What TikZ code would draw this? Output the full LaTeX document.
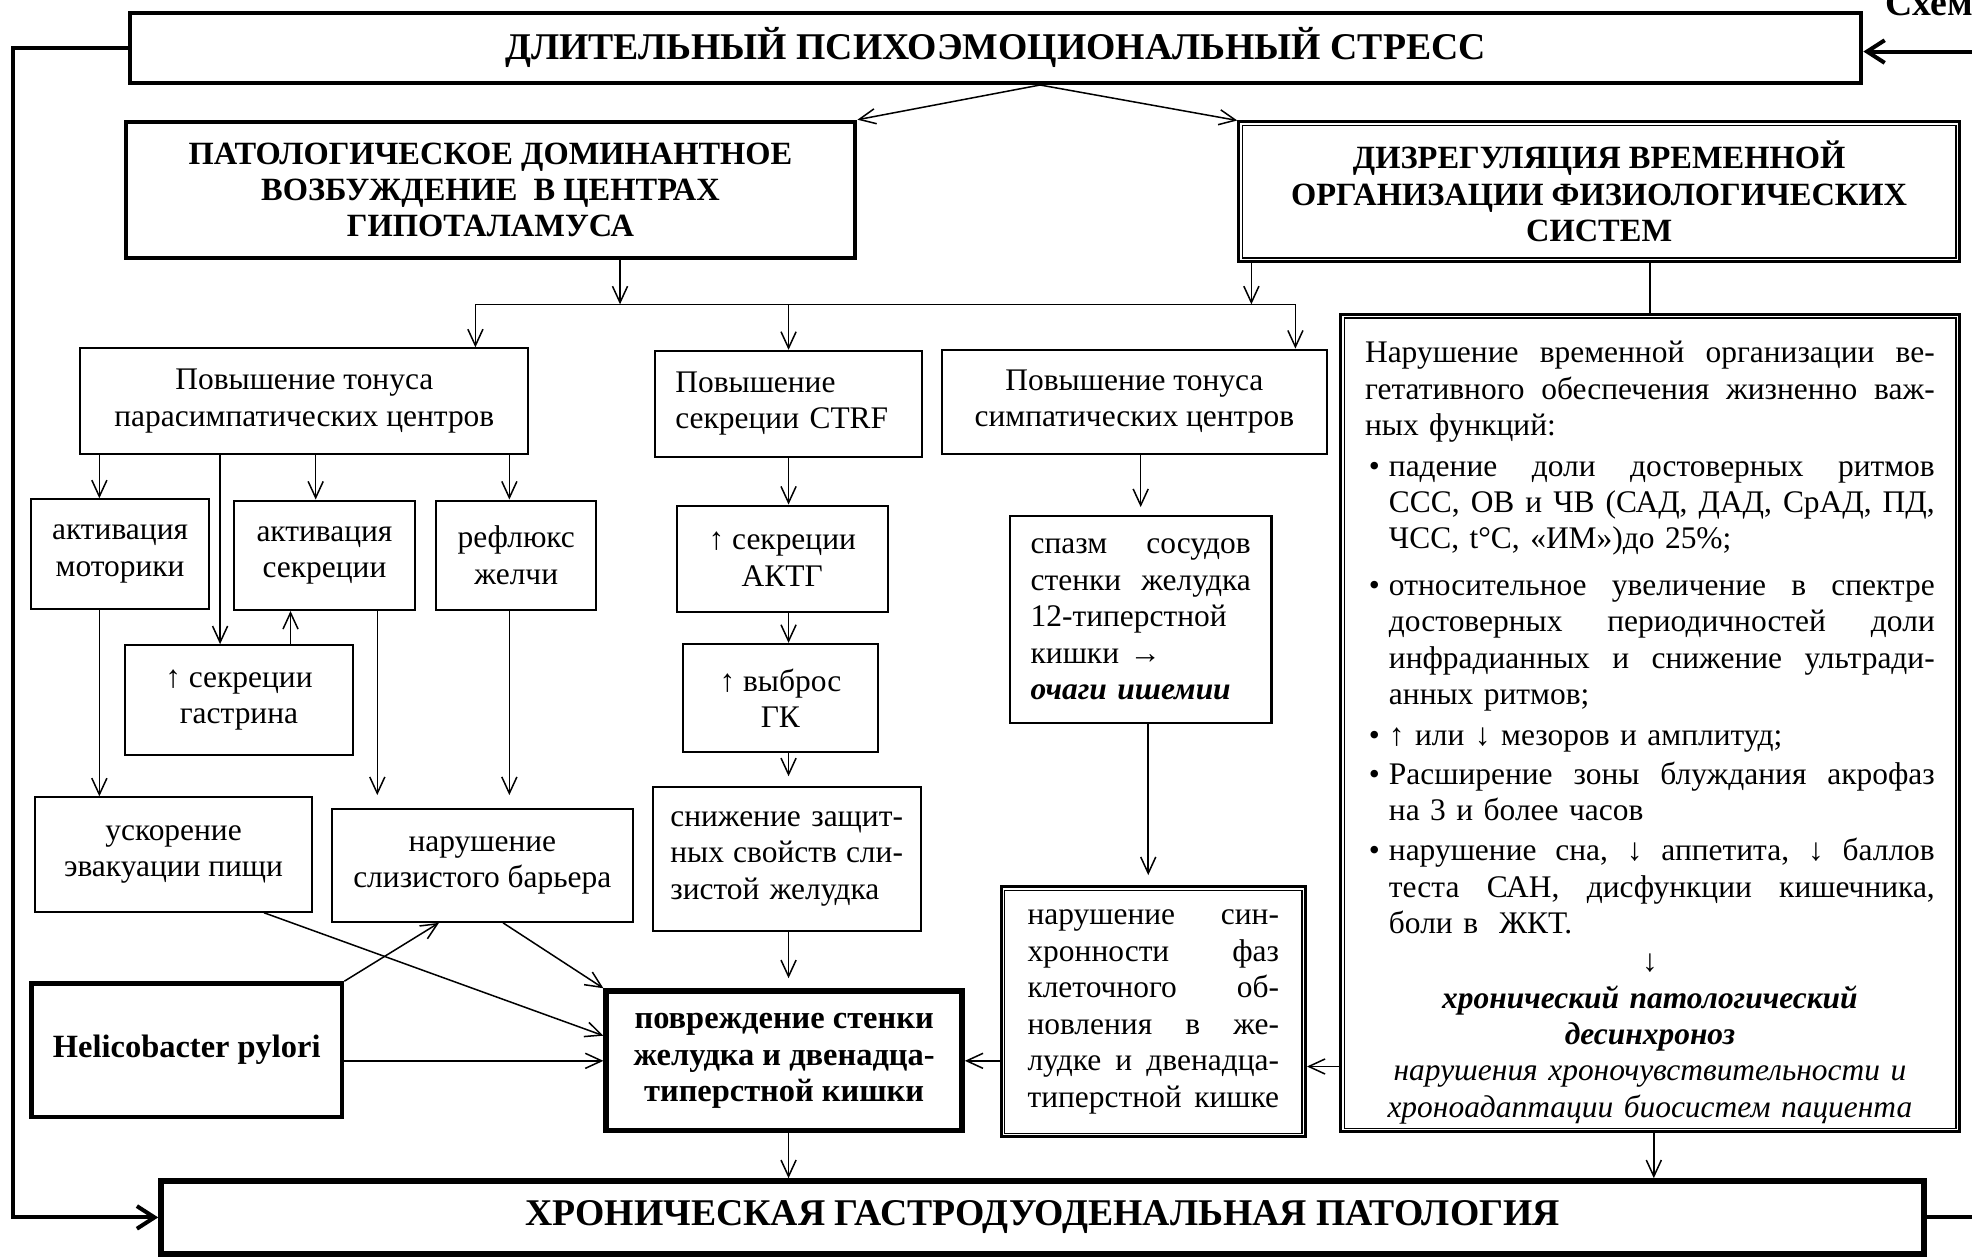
\documentclass[tikz,border=0pt]{standalone}
\usepackage{fontspec}
\setmainfont{Liberation Serif}
\usetikzlibrary{arrows.meta,calc}
\newcommand\myBody{\fontsize{12.5pt}{14.5pt}\selectfont}
\newcommand\myHead{\fontsize{12.9pt}{14.5pt}\selectfont\bfseries}
\newcommand\myTitle{\fontsize{15pt}{16pt}\selectfont\bfseries}
\newcommand\jline[2]{\leavevmode\hbox to #1{#2}}
\begin{document}
\begin{tikzpicture}[x=0.5pt,y=-0.5pt,
  box/.style={draw, line width=0.8pt, inner sep=0pt, align=center, font=\myBody},
  arr/.style={line width=0.6pt, -{Straight Barb[length=6.5pt,width=6pt]}},
  ln/.style={line width=0.6pt},
  loopln/.style={line width=1.6pt},
  looparr/.style={line width=1.6pt, -{Straight Barb[length=7pt,width=9pt]}},
  inner/.style={line width=0.5pt}
]
\useasboundingbox (0,0) rectangle (1568,999);
\clip (0,0) rectangle (1568,999);

% ---------- nodes ----------
\node[anchor=base west, inner sep=0pt, font=\myTitle] (schema) at (1499,12) {Схема};

\node[box, line width=1.6pt, minimum width=688.5pt, minimum height=28pt, font=\myTitle] (stress) at (791.5,38) {ДЛИТЕЛЬНЫЙ ПСИХОЭМОЦИОНАЛЬНЫЙ СТРЕСС};

\node[box, line width=1.8pt, minimum width=290pt, minimum height=54pt, font=\myHead] (path) at (390,151) {ПАТОЛОГИЧЕСКОЕ ДОМИНАНТНОЕ\\ВОЗБУЖДЕНИЕ \ В ЦЕНТРАХ\\ГИПОТАЛАМУСА};

\node[box, line width=1.2pt, minimum width=286.5pt, minimum height=55.5pt, font=\myHead] (dysr) at (1271.5,152.5) {ДИЗРЕГУЛЯЦИЯ ВРЕМЕННОЙ\\ОРГАНИЗАЦИИ ФИЗИОЛОГИЧЕСКИХ\\СИСТЕМ};
\draw[inner] ([shift={(4,4)}]dysr.north west) rectangle ([shift={(-4,-4)}]dysr.south east);

\node[box, minimum width=178pt, minimum height=42pt] (para) at (242,319) {Повышение тонуса\\парасимпатических центров};
\node[box, align=left, text width=90pt, inner xsep=8pt, minimum height=42pt] (ctrf) at (627,321) {Повышение\\секреции CTRF};
\node[box, minimum width=153pt, minimum height=41.5pt] (symp) at (902,319.5) {Повышение тонуса\\симпатических центров};

\node[box, line width=1.2pt, minimum width=246pt, minimum height=325pt] (info) at (1312,575) {};
\draw[inner] ([shift={(4,4)}]info.north west) rectangle ([shift={(-4,-4)}]info.south east);
\node[anchor=north west, inner sep=0pt, align=left, text width=227pt, font=\myBody] (infotxt) at (1085,271) {%
\jline{226.5pt}{Нарушение\hfill временной\hfill организации\hfill ве-}\\
\jline{226.5pt}{гетативного\hfill обеспечения\hfill жизненно\hfill важ-}\\
ных функций:\\[1.5pt]
\hspace*{1.5pt}\makebox[8pt][l]{•}\jline{217pt}{падение\hfill доли\hfill достоверных\hfill ритмов}\\
\hspace*{9.5pt}\jline{217pt}{ССС,\hfill ОВ\hfill и\hfill ЧВ\hfill (САД,\hfill ДАД,\hfill СрАД,\hfill ПД,}\\
\hspace*{9.5pt}ЧСС, t°C, «ИМ»)до 25\%;\\[4pt]
\hspace*{1.5pt}\makebox[8pt][l]{•}\jline{217pt}{относительное\hfill увеличение\hfill в\hfill спектре}\\
\hspace*{9.5pt}\jline{217pt}{достоверных\hfill периодичностей\hfill доли}\\
\hspace*{9.5pt}\jline{217pt}{инфрадианных\hfill и\hfill снижение\hfill ультради-}\\
\hspace*{9.5pt}анных ритмов;\\[1.5pt]
\hspace*{1.5pt}\makebox[8pt][l]{•}↑ или ↓ мезоров и амплитуд;\\[1pt]
\hspace*{1.5pt}\makebox[8pt][l]{•}\jline{217pt}{Расширение\hfill зоны\hfill блуждания\hfill акрофаз}\\
\hspace*{9.5pt}на 3 и более часов\\[1.5pt]
\hspace*{1.5pt}\makebox[8pt][l]{•}\jline{217pt}{нарушение\hfill сна,\hfill ↓\hfill аппетита,\hfill ↓\hfill баллов}\\
\hspace*{9.5pt}\jline{217pt}{теста\hfill САН,\hfill дисфункции\hfill кишечника,}\\
\hspace*{9.5pt}боли в \ ЖКТ.\\[0.5pt]
\makebox[226.5pt][c]{↓}\\
\makebox[226.5pt][c]{\textbf{\textit{хронический патологический}}}\\
\makebox[226.5pt][c]{\textbf{\textit{десинхроноз}}}\\
\makebox[226.5pt][c]{\textit{нарушения хроночувствительности и}}\\
\makebox[226.5pt][c]{\textit{хроноадаптации биосистем пациента}}};

\node[box, minimum width=70.5pt, minimum height=43.5pt] (motor) at (95.5,440.5) {активация\\моторики};
\node[box, minimum width=72pt, minimum height=43.5pt] (secr) at (258,441.5) {активация\\секреции};
\node[box, minimum width=63.5pt, minimum height=43.5pt] (bile) at (410.5,441.5) {рефлюкс\\желчи};
\node[box, minimum width=91pt, minimum height=43.5pt] (gastr) at (190,556.5) {↑ секреции\\гастрина};
\node[box, minimum width=110pt, minimum height=45.5pt] (accel) at (138,679.5) {ускорение\\эвакуации пищи};
\node[box, minimum width=119.5pt, minimum height=45pt] (barr) at (383.5,688) {нарушение\\слизистого барьера};

\node[box, minimum width=84pt, minimum height=42.5pt] (actg) at (622,444.5) {↑ секреции\\АКТГ};
\node[box, minimum width=77.5pt, minimum height=43pt] (gk) at (620.5,555) {↑ выброс\\ГК};
\node[box, align=left, text width=92.5pt, inner xsep=7pt, minimum height=57pt] (lower) at (625.5,683) {\jline{92.5pt}{снижение\hfill защит-}\\\jline{92.5pt}{ных\hfill свойств\hfill сли-}\\зистой желудка};

\node[box, align=left, text width=87.5pt, inner xsep=8.25pt, minimum height=82.5pt] (spasm) at (907,492.5) {\jline{87.5pt}{спазм\hfill сосудов}\\\jline{87.5pt}{стенки\hfill желудка}\\12-типерстной\\кишки →\\\textbf{\textit{очаги ишемии}}};

\node[box, line width=1.2pt, align=left, text width=100pt, inner xsep=10.5pt, minimum height=99.5pt] (sync) at (917,804.5) {\jline{100pt}{нарушение\hfill син-}\\\jline{100pt}{хронности\hfill фаз}\\\jline{100pt}{клеточного\hfill об-}\\\jline{100pt}{новления\hfill в\hfill же-}\\\jline{100pt}{лудке\hfill и\hfill двенадца-}\\\jline{100pt}{типерстной\hfill кишке}};
\draw[inner] ([shift={(4,4)}]sync.north west) rectangle ([shift={(-4,-4)}]sync.south east);

\node[box, line width=2.2pt, minimum width=141.5pt, minimum height=55.5pt, font=\myHead] (damage) at (623.5,843.5) {повреждение стенки\\желудка и двенадца-\\типерстной кишки};
\node[box, line width=1.8pt, minimum width=123.5pt, minimum height=53pt, font=\myHead] (helico) at (148.5,835) {Helicobacter pylori};

\node[box, line width=2.2pt, minimum width=701pt, minimum height=29pt, font=\myTitle] (chron) at (829,968) {ХРОНИЧЕСКАЯ ГАСТРОДУОДЕНАЛЬНАЯ ПАТОЛОГИЯ};

% ---------- connectors ----------
\coordinate (top) at ($(stress.south)+(35.5,0)$);
\draw[arr] (top) -- (path.north east);
\draw[arr] (top) -- (dysr.north west);

\coordinate (busL) at (378,242);
\coordinate (busR) at (1030,242);
\draw[ln] (busL) -- (busR);
\draw[arr] (493,0 |- path.south) -- (493,0 |- busL);
\draw[arr] (995,0 |- dysr.south) -- (995,0 |- busL);
\draw[arr] (busL) -- (busL |- para.north);
\draw[arr] (627,0 |- busL) -- (ctrf.north);
\draw[arr] (busR) -- (busR |- symp.north);
\draw[ln] (info.north |- dysr.south) -- (info.north);

\draw[arr] (79,0 |- para.south) -- (79,0 |- motor.north);
\draw[arr] (175,0 |- para.south) -- (175,0 |- gastr.north);
\draw[arr] (251,0 |- para.south) -- (251,0 |- secr.north);
\draw[arr] (405,0 |- para.south) -- (405,0 |- bile.north);
\draw[arr] (231,0 |- gastr.north) -- (231,0 |- secr.south);
\draw[arr] (79,0 |- motor.south) -- (79,0 |- accel.north);
\draw[arr, shorten >=5pt] (300,0 |- secr.south) -- (300,0 |- barr.north);
\draw[arr, shorten >=5pt] (405,0 |- bile.south) -- (405,0 |- barr.north);

\draw[arr] (627,0 |- ctrf.south) -- (627,0 |- actg.north);
\draw[arr] (627,0 |- actg.south) -- (627,0 |- gk.north);
\draw[arr, shorten >=4pt] (627,0 |- gk.south) -- (627,0 |- lower.north);
\draw[arr, shorten >=4pt] (627,0 |- lower.south) -- (627,0 |- damage.north);
\draw[arr] (627,0 |- damage.south) -- (627,0 |- chron.north);

\draw[arr, shorten >=3pt] (907,0 |- symp.south) -- (907,0 |- spasm.north);
\draw[arr, shorten >=4pt] (913,0 |- spasm.south) -- (913,0 |- sync.north);
\draw[arr] (sync.west |- damage.east) -- (damage.east);
\draw[arr] (info.west |- 0,848) -- (sync.east |- 0,848);
\draw[arr] (1315,0 |- info.south) -- (1315,0 |- chron.north);

\draw[arr] (210,0 |- accel.south) -- ($(damage.west)+(0,-20)$);
\draw[arr] (400,0 |- barr.south) -- (damage.north west);
\draw[arr] (helico.north east) -- (349,0 |- barr.south);
\draw[arr] (helico.east |- damage.west) -- (damage.west);

% ---------- feedback loop ----------
\draw[looparr] (stress.west) -| (10,968) -- (chron.west);
\coordinate (rin) at (1575,41);
\coordinate (rout) at (1575,968);
\draw[looparr] (rin) -- (stress.east |- rin);
\draw[loopln] (chron.east) -- (rout);
\end{tikzpicture}
\end{document}
